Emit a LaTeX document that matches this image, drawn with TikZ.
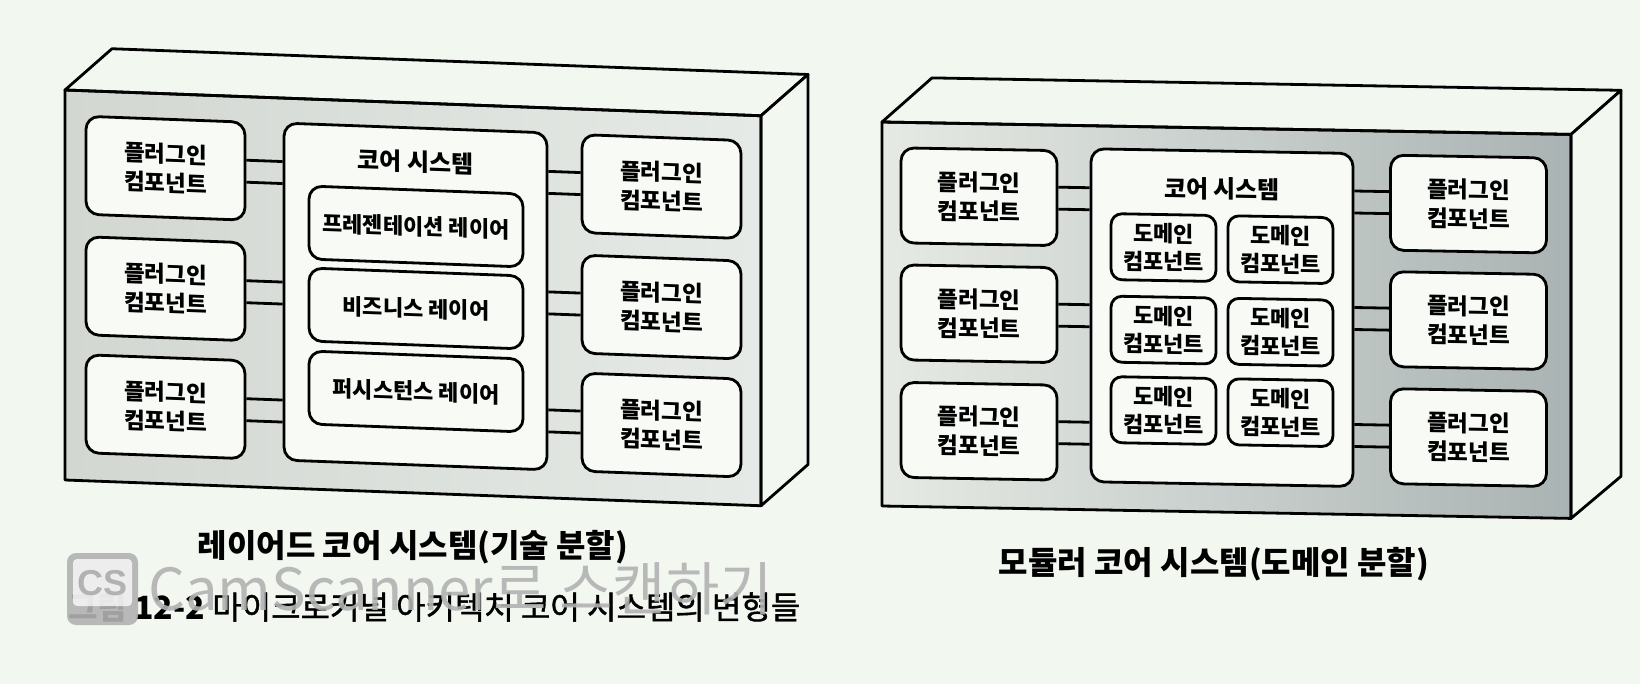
\documentclass[tikz,border=0pt]{standalone}
\usepackage{fontspec}
\newfontfamily\kr{Noto Sans CJK KR}
\newfontfamily\krm{Noto Sans CJK KR}[FakeBold=1.2]
\newfontfamily\wm{Liberation Sans}
\usetikzlibrary{calc}
\definecolor{bg}{HTML}{F2F7F0}
\definecolor{faceA}{HTML}{D2D7D2}
\definecolor{faceB}{HTML}{E6EAE6}
\definecolor{faceC}{HTML}{E6EAE4}
\definecolor{faceD}{HTML}{AAB3B3}
\definecolor{boxf}{HTML}{F7FAF5}
\definecolor{wmgray}{HTML}{B2B2B2}
\begin{document}
\begin{tikzpicture}[x=1pt,y={(0pt,-1pt)},
  edge/.style={line width=2.8pt, line join=round},
  comp/.style={draw, line width=2.8pt, rounded corners=13pt, fill=boxf, align=center, inner sep=0pt,
    font=\kr\bfseries\fontsize{22.5}{29}\selectfont},
  layer/.style={comp, minimum width=214pt, minimum height=73pt, font=\kr\bfseries\fontsize{22}{29}\selectfont},
  plug/.style={comp, minimum width=159pt, minimum height=98pt},
  plugR/.style={comp, minimum width=156pt, minimum height=95pt},
  dom/.style={comp, rounded corners=11pt, minimum width=105pt, minimum height=66pt,
    font=\kr\bfseries\fontsize{22}{28}\selectfont},
  conn/.style={line width=2.8pt},
  ttl/.style={font=\kr\bfseries\fontsize{24}{29}\selectfont, inner sep=0pt},
  captxt/.style={font=\kr\bfseries\fontsize{32}{36}\selectfont, inner sep=0pt}]

\fill[bg] (0,0) rectangle (1640,684);
\useasboundingbox (0,0) rectangle (1640,684);

% ---------------- left box: layered core ----------------
\begin{scope}[shift={(65,0)}, yslant=-0.037, shift={(-65,0)}, transform shape]
  \shade[left color=faceA, right color=faceB] (65,90) rectangle (761,480);
  \draw[edge, fill=bg] (65,90) -- (112,47) -- (808,47) -- (761,90) -- cycle;
  \draw[edge, fill=bg] (761,90) -- (808,47) -- (808,437) -- (761,480) -- cycle;
  \draw[edge] (65,90) rectangle (761,480);

  \node[plug] (LL1) at (165.5,164.5) {플러그인\\컴포넌트};
  \node[plug] (LL2) at (165.5,285) {플러그인\\컴포넌트};
  \node[plug] (LL3) at (165.5,403) {플러그인\\컴포넌트};
  \node[comp, minimum width=263pt, minimum height=337pt] (LC) at (415.5,283.5) {};
  \node[ttl] (LCt) at (415.5,149) {코어 시스템};
  \node[layer] (LP1) at (416,213.5) {프레젠테이션 레이어};
  \node[layer] (LP2) at (416,295.5) {비즈니스 레이어};
  \node[layer] (LP3) at (416,378.5) {퍼시스턴스 레이어};
  \node[plug] (LR1) at (661.5,164.5) {플러그인\\컴포넌트};
  \node[plug] (LR2) at (661.5,285) {플러그인\\컴포넌트};
  \node[plug] (LR3) at (661.5,403) {플러그인\\컴포넌트};

  \foreach \n in {LL1,LL2,LL3}{
    \draw[conn] ([yshift=11pt]\n.east) -- ([yshift=11pt]\n.east -| LC.west);
    \draw[conn] ([yshift=-11pt]\n.east) -- ([yshift=-11pt]\n.east -| LC.west);
  }
  \foreach \n in {LR1,LR2,LR3}{
    \draw[conn] ([yshift=11pt]\n.west) -- ([yshift=11pt]\n.west -| LC.east);
    \draw[conn] ([yshift=-11pt]\n.west) -- ([yshift=-11pt]\n.west -| LC.east);
  }
\end{scope}

% ---------------- right box: modular core ----------------
\begin{scope}[shift={(882,0)}, yslant=-0.018, shift={(-882,0)}, transform shape]
  \shade[left color=faceC, right color=faceD] (882,122) rectangle (1571,506);
  \draw[edge, fill=bg] (882,122) -- (932,77) -- (1621,77) -- (1571,122) -- cycle;
  \draw[edge, fill=bg] (1571,122) -- (1621,77) -- (1621,463) -- (1571,506) -- cycle;
  \draw[edge] (882,122) rectangle (1571,506);

  \node[plugR] (RL1) at (979,195) {플러그인\\컴포넌트};
  \node[plugR] (RL2) at (979,312) {플러그인\\컴포넌트};
  \node[plugR] (RL3) at (979,429.5) {플러그인\\컴포넌트};
  \node[comp, minimum width=262pt, minimum height=333pt] (RC) at (1222,311.5) {};
  \node[ttl] (RCt) at (1222,183) {코어 시스템};
  \node[dom] (D11) at (1163.5,242.5) {도메인\\컴포넌트};
  \node[dom] (D12) at (1280.5,242.5) {도메인\\컴포넌트};
  \node[dom] (D21) at (1163.5,325) {도메인\\컴포넌트};
  \node[dom] (D22) at (1280.5,325) {도메인\\컴포넌트};
  \node[dom] (D31) at (1163.5,405.5) {도메인\\컴포넌트};
  \node[dom] (D32) at (1280.5,405.5) {도메인\\컴포넌트};
  \node[plugR] (RR1) at (1468.5,193.5) {플러그인\\컴포넌트};
  \node[plugR] (RR2) at (1468.5,310) {플러그인\\컴포넌트};
  \node[plugR] (RR3) at (1468.5,427) {플러그인\\컴포넌트};

  \foreach \n in {RL1,RL2,RL3}{
    \draw[conn] ([yshift=11pt]\n.east) -- ([yshift=11pt]\n.east -| RC.west);
    \draw[conn] ([yshift=-11pt]\n.east) -- ([yshift=-11pt]\n.east -| RC.west);
  }
  \foreach \n in {RR1,RR2,RR3}{
    \draw[conn] ([yshift=11pt]\n.west) -- ([yshift=11pt]\n.west -| RC.east);
    \draw[conn] ([yshift=-11pt]\n.west) -- ([yshift=-11pt]\n.west -| RC.east);
  }
\end{scope}

% ---------------- captions ----------------
\node[captxt] (capL) at (413,547) {레이어드 코어 시스템(기술 분할)};
\node[captxt] (capR) at (1214,564) {모듈러 코어 시스템(도메인 분할)};
\node[inner sep=0pt, anchor=west, font=\krm\fontsize{32}{36}\selectfont] (fig) at (68,607)
  {{\kr\bfseries 그림 12-2} 마이크로커널 아키텍처 코어 시스템의 변형들};

% ---------------- scanner watermark ----------------
\fill[wmgray, opacity=0.9, rounded corners=9pt] (67,553) rectangle (138,625);
\fill[white, opacity=0.75, rounded corners=4pt] (73,559) rectangle (132,606);
\node[inner sep=0pt, text=wmgray, font=\wm\bfseries\fontsize{36}{36}\selectfont] (wmcs) at (102.5,583) {CS};
\node[inner sep=0pt, anchor=base west, text=wmgray, opacity=0.9, font=\kr\fontsize{58}{62}\selectfont] (wmt) at (148,610) {CamScanner로 스캔하기};
\end{tikzpicture}
\end{document}
